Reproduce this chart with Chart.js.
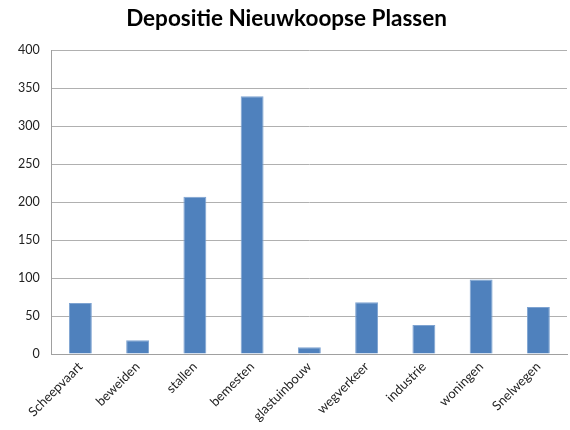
<!DOCTYPE html>
<html><head><meta charset="utf-8">
<script src="https://cdn.jsdelivr.net/npm/chart.js@4/dist/chart.umd.min.js"></script>
<style>html,body{margin:0;padding:0;background:#fff}#wrap{width:570px;height:430px}</style>
</head><body><div id="wrap"><canvas id="c" width="570" height="430"></canvas></div>
<script>
const categories = ["Scheepvaart","beweiden","stallen","bemesten","glastuinbouw","wegverkeer","industrie","woningen","Snelwegen"];
const values = [67, 18, 207, 339, 9, 68, 38, 98, 62];
const yTicks = [0, 50, 100, 150, 200, 250, 300, 350, 400];
const title = "Depositie Nieuwkoopse Plassen";

new Chart(document.getElementById('c'), {
  type: 'bar',
  data: { labels: categories, datasets: [{ data: values, backgroundColor: '#4F81BD', borderColor: '#7EA3D1', borderWidth: 1, categoryPercentage: 0.8, barPercentage: 0.5 }] },
  options: {
    responsive: false, animation: false,
    layout: { padding: { left: 6, right: 3, top: 0, bottom: 0 } },
    plugins: {
      legend: { display: false }, tooltip: { enabled: false },
      title: { display: true, text: title, color: '#000', font: { family: 'Lato', size: 22.5, weight: 'bold' }, padding: { top: 5, bottom: 18 } }
    },
    scales: {
      x: {
        afterFit: (s) => { s.height = 76; },
        grid: { display: false, drawTicks: false },
        border: { color: '#a0a0a0', width: 1 },
        ticks: { color: '#222', font: { family: 'Lato', size: 13 }, minRotation: 45, maxRotation: 45, padding: 5 }
      },
      y: {
        min: 0, max: 400,
        afterBuildTicks: (s) => { s.ticks = yTicks.map(v => ({ value: v })); },
        grid: { color: '#b0b0b0', lineWidth: 1, drawTicks: false },
        border: { color: '#a0a0a0', width: 1 },
        ticks: { color: '#222', font: { family: 'Lato', size: 12.5 }, padding: 12 }
      }
    }
  }
});
</script></body></html>
